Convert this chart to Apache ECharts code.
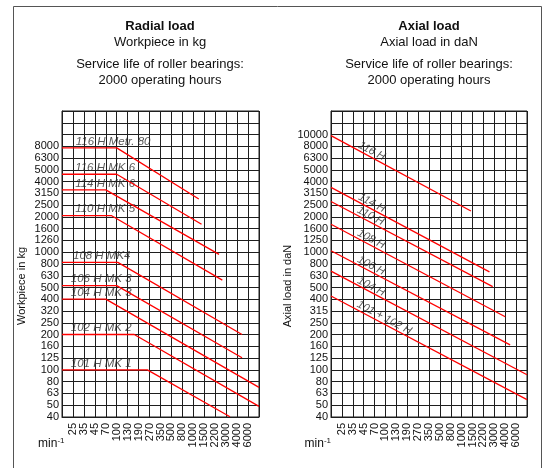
<!DOCTYPE html>
<html>
<head>
<meta charset="utf-8">
<script src="https://cdn.jsdelivr.net/npm/echarts@6/dist/echarts.min.js"></script>
<style>
html,body{margin:0;padding:0;background:#fff;}
#c{width:546px;height:468px;}
</style>
</head>
<body>
<div id="c"></div>
<script>
// ---- data ----
const speedLabels = ['25','35','45','70','100','130','190','270','350','500','800','1000','1500','2200','3000','4000','6000'];
const radialTicks = ['40','50','63','80','100','125','160','200','250','320','400','500','630','800','1000','1260','1600','2000','2500','3150','4000','5000','6300','8000'];
const axialTicks = ['40','50','63','80','100','125','160','200','250','315','400','500','630','800','1000','1250','1600','2000','2500','3150','4000','5000','6300','8000','10000'];

// Radial load (workpiece in kg): flat from left edge, then falling
const radialNames = ['116 H Metr. 80','116 H MK 6','114 H MK 6','110 H MK 5','108 H MK4','106 H MK 3','104 H MK 3','102 H MK 2','101 H MK 1'];
const radialStart = [7700, 4600, 3390, 2050, 820, 520, 400, 200, 100];
const radialBreakCol = [5, 5, 4, 4.5, 5.1, 5, 4, 6.6, 7.8];
const radialEndCol = [12.5, 12.75, 14.35, 14.65, 16.45, 16.45, 18, 18, 15.35];
const radialEnd = [2830, 1730, 960, 580, 200, 127, 71, 49, 40];
const radialLabelCol = [1.3, 1.25, 1.25, 1.25, 1.05, 0.85, 0.85, 0.85, 0.85];

// Axial load (daN): straight falling lines
const axialNames = ['116 H','114 H','110 H','108 H','106 H','104 H','101 + 102 H'];
const axialStart = [9800, 3560, 2700, 1730, 1030, 690, 425];
const axialEndCol = [12.85, 14.55, 14.85, 16, 16.45, 18, 18];
const axialEnd = [2240, 680, 510, 283, 163, 91, 56];
const axialLabelCol = [3.55, 3.55, 3.45, 3.5, 3.5, 3.5, 4.7];
const axialLabelAt = [6500, 2360, 1830, 1165, 692, 459, 250];

// ---- chart ----
const FONT = 'Liberation Sans, Arial, Helvetica, sans-serif';
const RED = '#ff0000';
const GRIDC = '#1e1e1e';
const lg = v => Math.log10(v);

function tickFmt(labels) {
  return function (v) {
    const i = Math.round((v - 1.6) * 10);
    return (i >= 0 && i < labels.length) ? labels[i] : '';
  };
}

function xAxisFor(idx, gap) {
  return {
    gridIndex: idx, type: 'value', min: 0, max: 18, interval: 1,
    axisLine: {show: true, lineStyle: {color: GRIDC, width: 1}},
    axisTick: {show: false},
    splitLine: {show: true, lineStyle: {color: GRIDC, width: 1}},
    axisLabel: {
      rotate: 90, margin: 6, fontSize: 11, color: '#111', fontFamily: FONT,
      formatter: v => speedLabels[v - 1] || ''
    },
    name: '{m|min}{e|-1}',
    nameLocation: 'start',
    nameGap: gap,
    nameTextStyle: {
      fontFamily: FONT, color: '#111', verticalAlign: 'middle', padding: [54, 0, 0, 0],
      rich: {
        m: {fontSize: 12, lineHeight: 14, fontFamily: FONT, color: '#111'},
        e: {fontSize: 8, verticalAlign: 'top', fontFamily: FONT, color: '#111'}
      }
    }
  };
}

function yAxisFor(idx, labels, name, gap) {
  return {
    gridIndex: idx, type: 'value', min: 1.6, max: 4.2, interval: 0.1,
    axisLine: {show: true, lineStyle: {color: GRIDC, width: 1}},
    axisTick: {show: false},
    splitLine: {show: true, lineStyle: {color: GRIDC, width: 1}},
    axisLabel: {margin: 3, fontSize: 11, color: '#111', fontFamily: FONT, formatter: tickFmt(labels)},
    name: name,
    nameLocation: 'middle',
    nameGap: gap,
    nameTextStyle: {fontSize: 11, color: '#111', fontFamily: FONT, padding: [0, 44, 0, 0]}
  };
}

const series = [];
radialNames.forEach((n, i) => {
  series.push({
    type: 'line', xAxisIndex: 0, yAxisIndex: 0, symbol: 'none', silent: true,
    lineStyle: {color: RED, width: 1.3},
    data: [[0, lg(radialStart[i])], [radialBreakCol[i], lg(radialStart[i])], [radialEndCol[i], lg(radialEnd[i])]]
  });
});
series.push({
  type: 'scatter', xAxisIndex: 0, yAxisIndex: 0, symbolSize: 1, silent: true,
  itemStyle: {color: 'rgba(0,0,0,0)'},
  label: {
    show: true, position: [0, 0], align: 'left', verticalAlign: 'bottom',
    fontSize: 11.5, fontStyle: 'italic', color: '#2a2a2a', fontFamily: FONT,
    formatter: p => p.data[2]
  },
  data: radialNames.map((n, i) => [radialLabelCol[i], lg(radialStart[i]), n])
});
axialNames.forEach((n, i) => {
  series.push({
    type: 'line', xAxisIndex: 1, yAxisIndex: 1, symbol: 'none', silent: true,
    lineStyle: {color: RED, width: 1.3},
    data: [[0, lg(axialStart[i])], [axialEndCol[i], lg(axialEnd[i])]]
  });
});
series.push({
  type: 'scatter', xAxisIndex: 1, yAxisIndex: 1, symbolSize: 1, silent: true,
  itemStyle: {color: 'rgba(0,0,0,0)'},
  label: {
    show: true, position: [0, 0], align: 'center', verticalAlign: 'bottom', rotate: -28,
    fontSize: 11, fontStyle: 'italic', color: '#2a2a2a', fontFamily: FONT,
    formatter: p => p.data[2]
  },
  data: axialNames.map((n, i) => [axialLabelCol[i], lg(axialLabelAt[i]), n])
});

function titleLines(cx, lines) {
  return lines.map(l => ({
    text: l.t, left: cx, top: l.top, textAlign: 'center', padding: 0,
    textStyle: {fontSize: 13, fontWeight: l.b ? 'bold' : 'normal', color: '#111', fontFamily: FONT}
  }));
}

const chart = echarts.init(document.getElementById('c'), null, {renderer: 'canvas'});
chart.setOption({
  animation: false,
  backgroundColor: '#fff',
  title: [].concat(
    titleLines(160, [
      {t: 'Radial load', top: 20, b: true},
      {t: 'Workpiece in kg', top: 36},
      {t: 'Service life of roller bearings:', top: 58},
      {t: '2000 operating hours', top: 74}
    ]),
    titleLines(429, [
      {t: 'Axial load', top: 20, b: true},
      {t: 'Axial load in daN', top: 36},
      {t: 'Service life of roller bearings:', top: 58},
      {t: '2000 operating hours', top: 74}
    ])
  ),
  graphic: [{
    type: 'rect', silent: true,
    shape: {x: 13.5, y: 6.5, width: 528, height: 480},
    style: {fill: null, stroke: '#555', lineWidth: 1}
  }],
  grid: [
    {left: 62, top: 111, width: 197, height: 306, show: true, borderColor: GRIDC, borderWidth: 1, backgroundColor: 'transparent'},
    {left: 331, top: 111, width: 196, height: 306, show: true, borderColor: GRIDC, borderWidth: 1, backgroundColor: 'transparent'}
  ],
  xAxis: [xAxisFor(0, -4), xAxisFor(1, 0)],
  yAxis: [
    yAxisFor(0, radialTicks, 'Workpiece in kg', 35),
    yAxisFor(1, axialTicks, 'Axial load in daN', 33)
  ],
  series: series
});
</script>
</body>
</html>
